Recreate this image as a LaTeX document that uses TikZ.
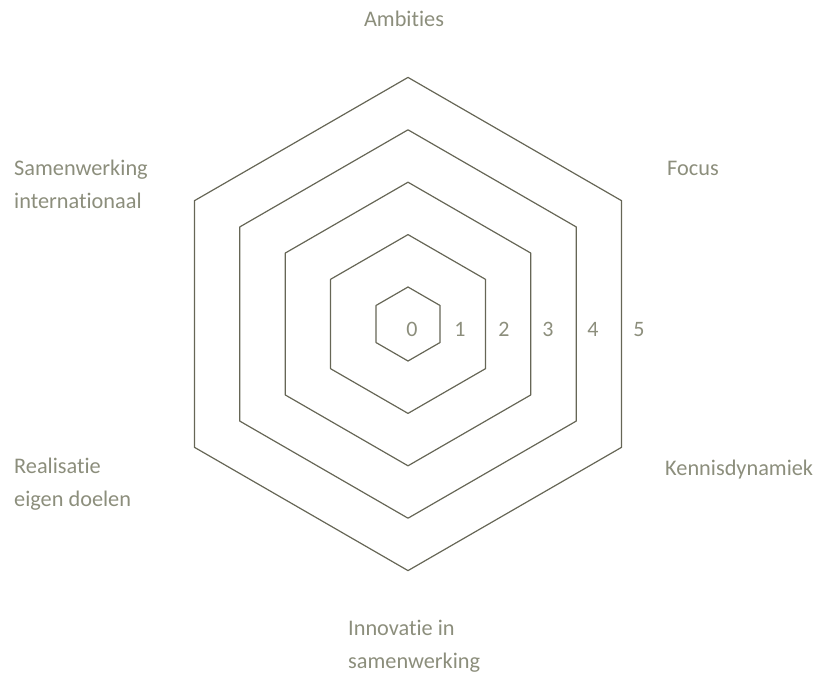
\documentclass[tikz,border=0pt]{standalone}
\usepackage{fontspec}
\setmainfont{Carlito}[Ligatures=NoCommon]
\definecolor{hexline}{RGB}{102,102,86}
\definecolor{labeltext}{RGB}{140,142,124}
\begin{document}
\begin{tikzpicture}[x=1pt,y=-1pt,line join=round,line cap=round,
	hexagon/.style={draw=hexline,line width=1.2pt},
	axislabel/.style={text=labeltext,inner sep=0pt,align=left,anchor=base west,
		font=\fontsize{22.3}{33}\selectfont},
	ringlabel/.style={text=labeltext,inner sep=0pt,anchor=base,
		font=\fontsize{22}{26}\selectfont}]
	\useasboundingbox (0,0) rectangle (826,677);
	\path 
	(408,324) coordinate (O)
	;
	% rings
	\foreach \r in {37,89.4,141.8,194.2,246.6}
		\draw[hexagon] ([shift={(90:\r)}]O)--([shift={(30:\r)}]O)--([shift={(-30:\r)}]O)
			--([shift={(-90:\r)}]O)--([shift={(-150:\r)}]O)--([shift={(150:\r)}]O)--cycle;
	% ring numbers
	\node[ringlabel] (n0) at (412,336) {0};
	\node[ringlabel] (n1) at (460,336) {1};
	\node[ringlabel] (n2) at (504,336) {2};
	\node[ringlabel] (n3) at (548,336) {3};
	\node[ringlabel] (n4) at (593,336) {4};
	\node[ringlabel] (n5) at (639,336) {5};
	% axis names (multi-line: base = last line)
	\node[axislabel,anchor=base] (ambities) at (404,27) {Ambities};
	\node[axislabel] (focus) at (667,175) {Focus};
	\node[axislabel] (kennis) at (665,475) {Kennisdynamiek};
	\node[axislabel] (innovatie) at (348,668) {Innovatie in\\samenwerking};
	\node[axislabel] (realisatie) at (14,506) {Realisatie\\eigen doelen};
	\node[axislabel] (samenwerking) at (14,208) {Samenwerking\\internationaal};
\end{tikzpicture}
\end{document}
